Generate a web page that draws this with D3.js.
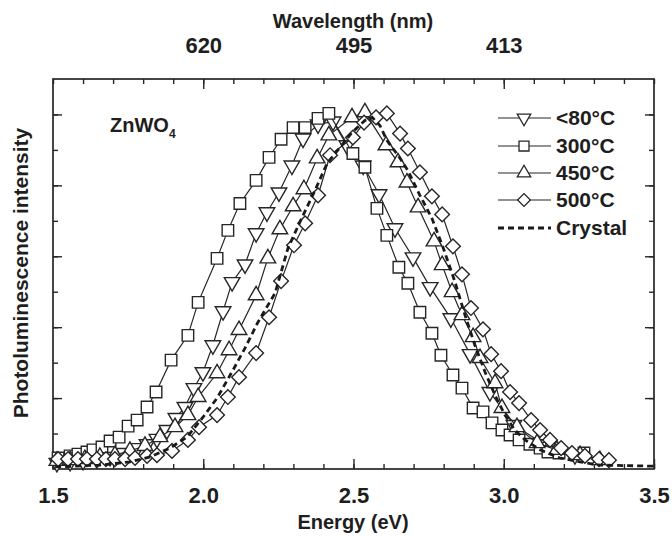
<!DOCTYPE html>
<html>
<head>
<meta charset="utf-8">
<script src="https://d3js.org/d3.v7.min.js"></script>
<style>
  body { margin: 0; background: #fff; }
  text { font-family: "Liberation Sans", Arial, sans-serif; font-weight: bold; fill: #1e1e1e; }
</style>
</head>
<body>
<div id="chart"></div>
<script>
// ---- data, energy in eV, normalised intensity ----
var e80  = [1.513,1.557,1.600,1.646,1.690,1.736,1.780,1.813,1.846,1.879,1.909,1.939,1.969,1.999,2.032,2.066,2.096,2.139,2.176,2.212,2.252,2.295,2.332,2.382,2.432,2.478,2.532,2.585,2.638,2.698,2.755,2.824,2.888,2.954,3.034,3.134,3.237];
var i80  = [0.017,0.020,0.023,0.028,0.034,0.045,0.059,0.070,0.085,0.110,0.144,0.175,0.228,0.273,0.349,0.445,0.527,0.577,0.665,0.724,0.780,0.856,0.932,0.972,0.980,0.913,0.856,0.775,0.679,0.597,0.513,0.425,0.324,0.217,0.124,0.070,0.039];

var e300 = [1.517,1.557,1.583,1.613,1.633,1.663,1.690,1.720,1.750,1.780,1.813,1.843,1.893,1.949,1.983,2.046,2.082,2.122,2.176,2.219,2.259,2.299,2.339,2.382,2.418,2.498,2.538,2.578,2.611,2.651,2.681,2.721,2.761,2.791,2.831,2.861,2.898,2.931,2.961,2.994,3.021,3.051,3.087,3.121,3.147,3.184,3.267];
var i300 = [0.031,0.037,0.042,0.048,0.054,0.062,0.079,0.090,0.121,0.138,0.175,0.217,0.307,0.377,0.470,0.594,0.673,0.749,0.814,0.879,0.930,0.963,0.963,0.989,1.003,0.890,0.851,0.735,0.659,0.569,0.524,0.442,0.383,0.321,0.265,0.228,0.172,0.161,0.130,0.110,0.096,0.082,0.070,0.059,0.048,0.045,0.045];

var e450 = [1.513,1.557,1.606,1.656,1.706,1.756,1.806,1.856,1.906,1.949,1.983,2.046,2.086,2.119,2.176,2.215,2.255,2.299,2.335,2.379,2.418,2.495,2.538,2.608,2.648,2.678,2.715,2.768,2.795,2.828,2.861,2.898,2.921,2.971,2.994,3.044,3.111,3.177,3.254,3.320];
var i450 = [0.023,0.025,0.028,0.034,0.039,0.051,0.065,0.090,0.118,0.152,0.203,0.270,0.335,0.392,0.490,0.594,0.676,0.741,0.789,0.876,0.941,0.992,1.006,0.913,0.865,0.808,0.738,0.642,0.575,0.499,0.434,0.372,0.313,0.242,0.172,0.118,0.073,0.054,0.039,0.025];

var e500 = [1.517,1.550,1.583,1.613,1.646,1.676,1.706,1.740,1.773,1.813,1.846,1.896,1.949,1.986,2.046,2.082,2.119,2.176,2.219,2.259,2.302,2.339,2.382,2.422,2.498,2.535,2.575,2.611,2.655,2.681,2.721,2.761,2.795,2.831,2.861,2.891,2.931,2.958,2.991,3.021,3.051,3.091,3.121,3.154,3.191,3.227,3.270,3.317,3.350];
var i500 = [0.028,0.028,0.028,0.028,0.028,0.028,0.028,0.028,0.031,0.037,0.039,0.051,0.082,0.118,0.152,0.203,0.259,0.327,0.428,0.530,0.631,0.693,0.772,0.885,0.935,0.977,0.992,1.003,0.946,0.904,0.837,0.769,0.718,0.628,0.549,0.454,0.394,0.324,0.276,0.217,0.186,0.138,0.110,0.082,0.059,0.045,0.037,0.028,0.025];

var eCrystal = [1.507,1.656,1.756,1.823,1.889,1.946,1.999,2.046,2.099,2.139,2.182,2.239,2.282,2.329,2.372,2.412,2.455,2.495,2.538,2.562,2.588,2.611,2.648,2.681,2.721,2.761,2.798,2.838,2.871,2.904,2.938,2.971,3.004,3.037,3.071,3.121,3.187,3.254,3.320,3.500];
var iCrystal = [0.006,0.011,0.020,0.034,0.059,0.090,0.146,0.200,0.279,0.341,0.414,0.496,0.623,0.710,0.786,0.862,0.907,0.949,0.983,0.992,0.969,0.927,0.885,0.842,0.772,0.707,0.625,0.527,0.434,0.349,0.273,0.208,0.152,0.110,0.082,0.054,0.031,0.020,0.011,0.008];

var legendLabels = ["<80°C", "300°C", "450°C", "500°C", "Crystal"];
var bottomTicks = [1.5, 2.0, 2.5, 3.0, 3.5];
var topTicks = [2.0, 2.5, 3.0];
var topTickLabels = ["620", "495", "413"];

// ---- layout ----
var width = 672, height = 536;
var plot = { left: 53, right: 654, top: 79, bottom: 469 };
var ink = "#262626";

var svg = d3.select("#chart").append("svg")
  .attr("width", width).attr("height", height)
  .attr("xmlns", "http://www.w3.org/2000/svg");

var x = d3.scaleLinear().domain([1.5, 3.5]).range([plot.left, plot.right]);
var y = d3.scaleLinear().domain([0, 1.1]).range([plot.bottom, plot.top]);

var minorX = d3.range(15, 36).map(function(d) { return d / 10; });
var minorY = d3.range(1, 11).map(function(d) { return d / 10; });
var majorY = minorY.filter(function(d, i) { return i % 2 === 1; });

// axes: ticks point inward, domain path replaced by the frame
function cleanAxis(g) {
  g.select(".domain").remove();
  g.selectAll(".tick line").attr("stroke", ink).attr("stroke-width", 1.4);
}
function boldLabels(g) {
  g.selectAll("text").attr("font-size", 22).attr("fill", "#1e1e1e")
    .attr("font-family", "Liberation Sans, Arial, sans-serif").attr("font-weight", "bold");
}

svg.append("g").attr("transform", "translate(0," + plot.bottom + ")")
  .call(d3.axisBottom(x).tickValues(minorX).tickSize(-5).tickFormat(""))
  .call(cleanAxis);
svg.append("g").attr("transform", "translate(0," + plot.bottom + ")")
  .call(d3.axisBottom(x).tickValues(bottomTicks).tickSize(-10).tickPadding(18)
    .tickFormat(d3.format(".1f")))
  .call(cleanAxis).call(boldLabels);

svg.append("g").attr("transform", "translate(0," + plot.top + ")")
  .call(d3.axisTop(x).tickValues(minorX).tickSize(-5).tickFormat(""))
  .call(cleanAxis);
svg.append("g").attr("transform", "translate(0," + plot.top + ")")
  .call(d3.axisTop(x).tickValues(topTicks).tickSize(-10).tickPadding(26)
    .tickFormat(function(d, i) { return topTickLabels[i]; }))
  .call(cleanAxis).call(boldLabels);

svg.append("g").attr("transform", "translate(" + plot.left + ",0)")
  .call(d3.axisLeft(y).tickValues(minorY).tickSize(-5).tickFormat(""))
  .call(cleanAxis);
svg.append("g").attr("transform", "translate(" + plot.left + ",0)")
  .call(d3.axisLeft(y).tickValues(majorY).tickSize(-9).tickFormat(""))
  .call(cleanAxis);
svg.append("g").attr("transform", "translate(" + plot.right + ",0)")
  .call(d3.axisRight(y).tickValues(minorY).tickSize(-5).tickFormat(""))
  .call(cleanAxis);
svg.append("g").attr("transform", "translate(" + plot.right + ",0)")
  .call(d3.axisRight(y).tickValues(majorY).tickSize(-9).tickFormat(""))
  .call(cleanAxis);

// frame
svg.append("rect")
  .attr("x", plot.left).attr("y", plot.top)
  .attr("width", plot.right - plot.left).attr("height", plot.bottom - plot.top)
  .attr("fill", "none").attr("stroke", ink).attr("stroke-width", 1.7);

// titles
svg.append("text").attr("x", 353).attr("y", 28).attr("text-anchor", "middle")
  .attr("font-size", 20).text("Wavelength (nm)");
svg.append("text").attr("x", 353).attr("y", 529).attr("text-anchor", "middle")
  .attr("font-size", 20).text("Energy (eV)");
svg.append("text").attr("transform", "translate(28,273) rotate(-90)")
  .attr("text-anchor", "middle").attr("font-size", 21)
  .text("Photoluminescence intensity");

var lbl = svg.append("text").attr("x", 110).attr("y", 132).attr("font-size", 20);
lbl.append("tspan").text("ZnWO");
lbl.append("tspan").attr("font-size", 12).attr("dy", 6).text("4");

// ---- series ----
var markers = {
  down:    { type: d3.symbolTriangle, size: 105, rotate: 180 },
  square:  { type: d3.symbolSquare,   size: 132, rotate: 0 },
  up:      { type: d3.symbolTriangle, size: 105, rotate: 0 },
  diamond: { type: d3.symbolSquare,   size: 108, rotate: 45 }
};

var series = [
  { name: legendLabels[0], e: e80,  v: i80,  marker: "down" },
  { name: legendLabels[1], e: e300, v: i300, marker: "square" },
  { name: legendLabels[2], e: e450, v: i450, marker: "up" },
  { name: legendLabels[3], e: e500, v: i500, marker: "diamond" }
];

var line = d3.line()
  .x(function(d) { return x(d[0]); })
  .y(function(d) { return y(d[1]); });

series.forEach(function(s) {
  var pts = d3.zip(s.e, s.v);
  var m = markers[s.marker];
  var g = svg.append("g").attr("class", "series");
  g.append("path").datum(pts).attr("d", line)
    .attr("fill", "none").attr("stroke", ink).attr("stroke-width", 1.2);
  g.selectAll("path.pt").data(pts).enter().append("path").attr("class", "pt")
    .attr("d", d3.symbol().type(m.type).size(m.size))
    .attr("transform", function(d) {
      return "translate(" + x(d[0]) + "," + y(d[1]) + ") rotate(" + m.rotate + ")";
    })
    .attr("fill", "#fff").attr("stroke", ink).attr("stroke-width", 1.4);
});

// crystal reference, dashed, drawn on top
svg.append("path").datum(d3.zip(eCrystal, iCrystal)).attr("d", line)
  .attr("fill", "none").attr("stroke", "#1a1a1a").attr("stroke-width", 2.8)
  .attr("stroke-dasharray", "6,4");

// ---- legend ----
var legendRows = [118, 146, 173, 200, 228];
var legend = svg.append("g").attr("class", "legend");
legendLabels.forEach(function(name, i) {
  var cy = legendRows[i];
  var row = legend.append("g");
  if (i < series.length) {
    var m = markers[series[i].marker];
    row.append("line").attr("x1", 498).attr("x2", 551).attr("y1", cy).attr("y2", cy)
      .attr("stroke", ink).attr("stroke-width", 1.2);
    row.append("path").attr("d", d3.symbol().type(m.type).size(m.size * 0.75))
      .attr("transform", "translate(524," + cy + ") rotate(" + m.rotate + ")")
      .attr("fill", "#fff").attr("stroke", ink).attr("stroke-width", 1.3);
  } else {
    row.append("line").attr("x1", 498).attr("x2", 551).attr("y1", cy).attr("y2", cy)
      .attr("stroke", "#1a1a1a").attr("stroke-width", 2.8).attr("stroke-dasharray", "6,4");
  }
  row.append("text").attr("x", 556).attr("y", cy + 7).attr("font-size", 21).text(name);
});
</script>
</body>
</html>
